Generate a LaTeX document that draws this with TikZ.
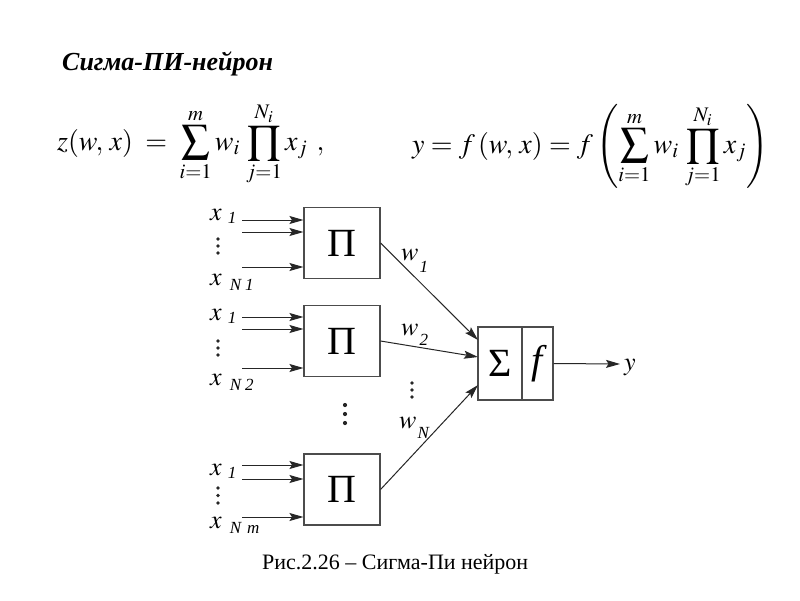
\documentclass[tikz,border=0pt]{standalone}
\usepackage{mathptmx}
\usepackage[no-math]{fontspec}
\setmainfont{Liberation Serif}
\usetikzlibrary{arrows.meta}
\newcommand\lab[4]{$#1$\kern#2pt\raisebox{-#3pt}{\fontsize{17}{17}\selectfont\itshape #4}}
\newcommand\dotcol[4]{\foreach \k in {0,1,2}{\fill[black!85] (#1,#2+\k*#3) circle (#4);}}
\begin{document}
\begin{tikzpicture}[x=1pt,y=-1pt,
  box/.style={draw=black!70, line width=1.1pt, minimum width=76pt, minimum height=71pt, inner sep=0pt, font=\fontsize{40}{40}\selectfont},
  conn/.style={draw=black!85, line width=1pt, -{Stealth[length=14pt,width=8pt,inset=2.5pt]}},
  lbl/.style={anchor=base west, inner sep=0pt, font=\fontsize{26}{28}\selectfont},
  frm/.style={anchor=base west, inner sep=0pt, font=\fontsize{28}{32}\selectfont}]
\useasboundingbox (0,0) rectangle (800,600);
\fill[white] (0,0) rectangle (800,600);

% title
\node[anchor=base west, inner sep=0pt, font=\fontsize{26}{28}\selectfont\bfseries\itshape] (title) at (62,70) {Сигма-ПИ-нейрон};

% formulas
\node[frm] (f1) at (57,150) {$\displaystyle z(w,\,x)\;=\;\sum_{i=1}^{m} w_i\,\prod_{j=1}^{N_i} x_j\;\,,$};
\node[frm] (f2) at (412,153) {$\displaystyle y=f\,(w,\,x)=f\left(\sum_{i=1}^{m} w_i\,\prod_{j=1}^{N_i} x_j\right)$};

% product boxes
\node[box] (b1) at (342,243) {Π};
\node[box] (b2) at (342,341) {Π};
\node[box] (b3) at (342,489.5) {Π};

% sum / activation
\node[draw=black!70, line width=1.1pt, minimum width=44pt, minimum height=73pt, inner sep=0pt, font=\fontsize{40}{40}\selectfont] (sig) at (500,363.5) {Σ};
\node[draw=black!70, line width=1.1pt, minimum width=31pt, minimum height=73pt, inner sep=0pt, font=\fontsize{40}{40}\selectfont\itshape] (fn) at (537.5,363.5) {f};

% inputs
\foreach \n/\y in {a/220,b/232,c/267}{\coordinate (i1\n) at (242,\y);}
\foreach \n/\y in {a/317,b/329,c/368}{\coordinate (i2\n) at (242,\y);}
\foreach \n/\y in {a/465,b/479,c/517}{\coordinate (i3\n) at (242,\y);}
\foreach \g in {1,2,3}{\foreach \n in {a,b,c}{\draw[conn] (i\g\n) -- (i\g\n -| b\g.west);}}

\node[lbl] (x11) at (210,220) {\lab{x}{6}{3}{1}};
\node[lbl] (x1n) at (210,285) {\lab{x}{8}{5}{N\kern4pt 1}};
\node[lbl] (x21) at (210,320) {\lab{x}{6}{3}{1}};
\node[lbl] (x2n) at (210,385) {\lab{x}{8}{5}{N\kern4pt 2}};
\node[lbl] (x31) at (210,475) {\lab{x}{6}{3}{1}};
\node[lbl] (x3n) at (210,528) {\lab{x}{8}{5}{N\kern6pt m}};
\dotcol{218}{239}{7}{1.9pt}
\dotcol{218}{341}{7}{1.9pt}
\dotcol{218}{488}{7.5}{1.9pt}
\dotcol{345}{405}{9}{2.1pt}
\dotcol{412}{383}{7}{1.9pt}

% weighted connections
\coordinate (t1) at (478,340);
\coordinate (t2) at (478,357);
\coordinate (t3) at (478,385);
\draw[conn] (b1.east) -- (t1);
\draw[conn] (b2.east) -- (t2);
\draw[conn] (b3.east) -- (t3);
\node[lbl] (w1) at (401,260) {\lab{w}{1}{12}{1}};
\node[lbl] (w2) at (401,335) {\lab{w}{1}{10}{2}};
\node[lbl] (wn) at (399,428) {\lab{w}{1}{10}{N}};

% output
\coordinate (out) at (620,364);
\draw[conn] (fn.east) -- (out);
\node[lbl] (y) at (624,370) {$y$};

% caption
\node[anchor=base west, inner sep=0pt, font=\fontsize{22}{24}\selectfont] (cap) at (262,569) {Рис.2.26 – Сигма-Пи нейрон};
\end{tikzpicture}
\end{document}
